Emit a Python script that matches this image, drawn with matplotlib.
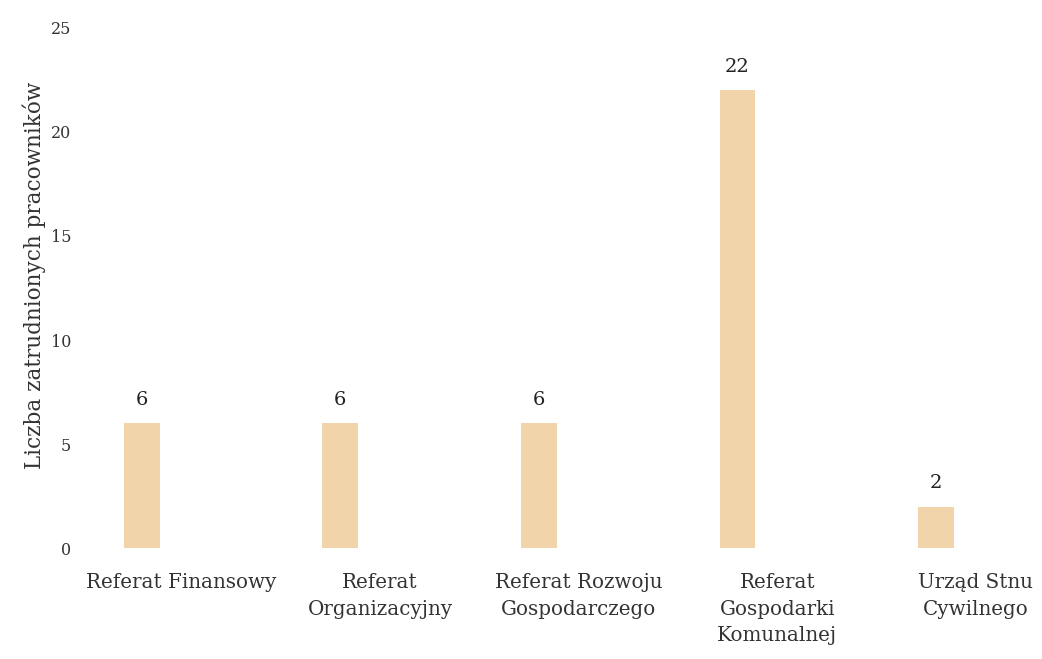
import matplotlib
matplotlib.use("Agg")
import matplotlib.pyplot as plt

categories = ["Referat Finansowy", "Referat\nOrganizacyjny", "Referat Rozwoju\nGospodarczego",
              "Referat\nGospodarki\nKomunalnej", "Urząd Stnu\nCywilnego"]
values = [6, 6, 6, 22, 2]
yticks = [0, 5, 10, 15, 20, 25]

plt.rcParams['font.family'] = ['DejaVu Serif', 'Liberation Serif']

fig = plt.figure(figsize=(10.42, 6.59), dpi=100)
ax = fig.add_axes([0.091, 0.168, 0.897, 0.79])

x = list(range(len(categories)))
ax.bar(x, values, width=0.18, color="#f1d4aa")
for xi, v in zip(x, values):
    ax.text(xi, v + 0.7, str(v), ha="center", va="bottom", fontsize=14, color="#222222")

ax.set_xlim(-0.236, 4.47)
ax.set_ylim(0, 25)
# in the original the category labels sit a bit to the right of the bars
label_offset = 0.2
ax.set_xticks([xi + label_offset for xi in x])
ax.set_xticklabels(categories, fontsize=14.3, color="#333333", linespacing=1.5)
ax.set_yticks(yticks)
ax.set_yticklabels([str(t) for t in yticks], fontsize=11.5, color="#333333")
ax.tick_params(axis="both", length=0)
ax.tick_params(axis="x", pad=18)
ax.tick_params(axis="y", pad=17)
ax.set_ylabel("Liczba zatrudnionych pracowników", fontsize=15.5, color="#333333")
ax.yaxis.set_label_coords(-0.052, 0.525)
for s in ax.spines.values():
    s.set_visible(False)

fig.savefig("out.png", dpi=100)
